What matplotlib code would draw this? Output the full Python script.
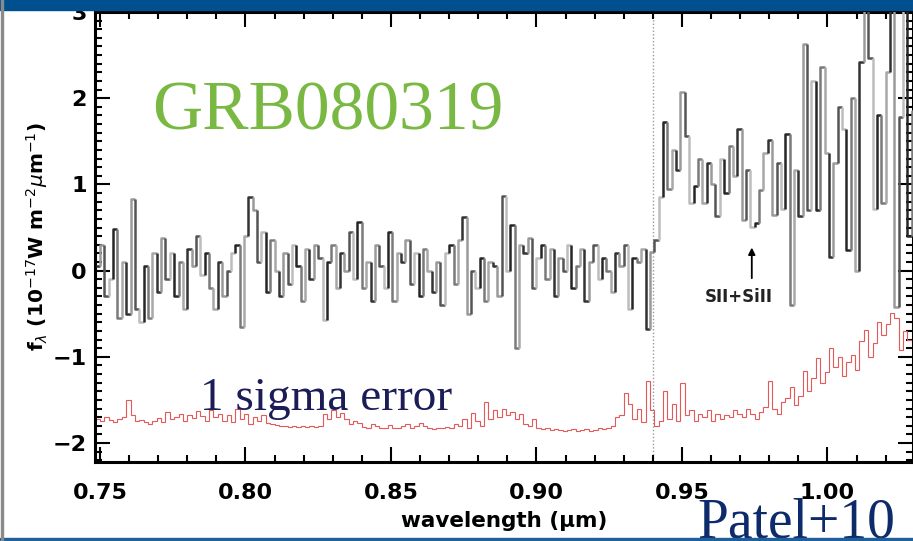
import numpy as np
import matplotlib.pyplot as plt
from matplotlib.collections import LineCollection
from matplotlib.patches import Rectangle
from matplotlib.ticker import MultipleLocator

# spectrum binning (micron)
wave_start = 0.7485
bin_width = 0.0015

# flux density, 1e-17 W m^-2 um^-1
flux = [
    0.05, 0.30, -0.30, -0.10, 0.48, -0.55, 0.10, -0.50, 0.83, -0.45,
    -0.60, 0.05, -0.55, 0.20, -0.25, 0.38, -0.10, 0.20, -0.30, 0.10,
    -0.45, 0.25, 0.05, 0.40, -0.05, 0.20, -0.20, -0.45, 0.10, -0.30,
    0.00, 0.20, 0.30, -0.65, 0.40, 0.85, 0.70, 0.10, 0.45, -0.25,
    0.35, 0.00, -0.30, 0.20, -0.15, 0.30, 0.05, -0.35, 0.25, -0.10,
    0.30, 0.15, -0.57, 0.10, 0.30, -0.20, 0.20, 0.00, 0.45, -0.10,
    0.56, -0.20, 0.10, -0.35, 0.30, 0.05, -0.20, 0.45, -0.35, 0.20,
    0.10, 0.35, -0.15, 0.20, -0.30, 0.25, 0.00, -0.25, 0.10, -0.40,
    0.20, 0.30, -0.15, 0.35, 0.62, -0.50, 0.00, -0.20, 0.15, -0.35,
    0.10, 0.05, -0.30, 0.87, 0.00, 0.53, -0.90, 0.30, 0.20, 0.38,
    -0.20, 0.15, 0.30, -0.10, 0.25, -0.30, 0.15, 0.00, 0.30, -0.20,
    0.05, 0.25, -0.35, 0.10, 0.30, -0.10, 0.15, 0.00, -0.25, 0.20,
    0.05, 0.30, -0.45, 0.15, 0.10, 0.25, -0.68, 0.22,
    0.35, 0.85, 1.72, 0.95, 1.40, 1.17, 2.07, 1.56, 0.79, 0.98,
    1.30, 0.79, 1.25, 1.00, 0.63, 1.30, 0.90, 1.44, 1.10, 1.64,
    0.59, 1.17, 0.51, 0.55, 0.94, 1.37, 1.52, 0.64, 1.25, 0.72,
    1.58, -0.40, 1.17, 0.63, 2.63, 0.70, 2.20, 0.70, 2.36, 1.37,
    0.16, 1.25, 1.90, 1.64, 0.24, 2.00, 0.00, 2.42, 3.40, 2.47,
    0.72, 1.80, 0.79, 2.30, 3.50, -0.42, 1.78, 3.50, 0.40, 1.85,
]

# 1 sigma error spectrum, drawn with an offset as in the figure
sigma = [
    -1.72, -1.74, -1.70, -1.73, -1.76, -1.72, -1.70, -1.50, -1.68, -1.74,
    -1.73, -1.76, -1.78, -1.74, -1.71, -1.76, -1.64, -1.72, -1.70, -1.66,
    -1.74, -1.68, -1.71, -1.63, -1.69, -1.75, -1.62, -1.70, -1.66, -1.74,
    -1.68, -1.76, -1.60, -1.72, -1.66, -1.78, -1.70, -1.74, -1.68, -1.77,
    -1.78, -1.79, -1.80, -1.80, -1.81, -1.80, -1.81, -1.80, -1.81, -1.80,
    -1.81, -1.80, -1.66, -1.72, -1.62, -1.70, -1.65, -1.72, -1.78, -1.74,
    -1.77, -1.81, -1.82, -1.78, -1.80, -1.83, -1.82, -1.79, -1.83, -1.82,
    -1.80, -1.78, -1.82, -1.80, -1.77, -1.80, -1.82, -1.84, -1.83, -1.82,
    -1.81, -1.83, -1.78, -1.80, -1.72, -1.82, -1.65, -1.74, -1.80, -1.52,
    -1.72, -1.62, -1.70, -1.60, -1.68, -1.64, -1.72, -1.66, -1.78, -1.80,
    -1.72, -1.82, -1.84, -1.83, -1.85, -1.84, -1.85, -1.86, -1.85, -1.84,
    -1.86, -1.85, -1.84, -1.86, -1.85, -1.83, -1.84, -1.82, -1.80, -1.70,
    -1.68, -1.42, -1.55, -1.72, -1.60, -1.76, -1.28, -1.62,
    -1.80, -1.75, -1.40, -1.72, -1.55, -1.74, -1.30, -1.68, -1.62, -1.75,
    -1.66, -1.70, -1.62, -1.74, -1.66, -1.72, -1.68, -1.70, -1.62, -1.66,
    -1.70, -1.60, -1.66, -1.72, -1.64, -1.58, -1.28, -1.60, -1.66, -1.52,
    -1.48, -1.35, -1.56, -1.46, -1.17, -1.40, -1.25, -1.01, -1.30, -1.18,
    -0.90, -1.12, -1.00, -1.22, -1.06, -0.98, -1.15, -0.82, -0.69, -1.00,
    -0.84, -0.60, -0.75, -0.62, -0.49, -0.55, -0.92, -0.70, -0.80, -0.85,
]

break_wave = 0.94
line_wave = 0.974
line_label = 'SII+SiII'

edges = wave_start + bin_width * np.arange(len(flux) + 1)

fig = plt.figure(figsize=(9.13, 5.41), dpi=100)
ax = fig.add_axes([95 / 913, 1 - 462 / 541, 818 / 913, 450 / 541])

# step spectrum, each bin in a slightly different grey like the scanned plot
greys = ['#333333', '#9a9a9a', '#555555', '#bdbdbd', '#262626', '#7a7a7a', '#a8a8a8']
segs, cols = [], []
for i, f in enumerate(flux):
    prev = flux[i - 1] if i > 0 else f
    segs.append([(edges[i], prev), (edges[i], f), (edges[i + 1], f)])
    cols.append(greys[i % len(greys)])
ax.add_collection(LineCollection(segs, colors=cols, linewidths=1.8, zorder=3))

ax.stairs(sigma, edges, baseline=None, color='#e35a5a', lw=0.8, zorder=2)
ax.axvline(break_wave, color='#9a9a9a', lw=1.0, ls=(0, (1, 1.5)), zorder=1)

ax.annotate('', xy=(line_wave, 0.30), xytext=(line_wave, -0.12),
            arrowprops=dict(arrowstyle='-|>', color='black', lw=1.3,
                            mutation_scale=10))
ax.text(line_wave - 0.0045, -0.31, line_label, ha='center', va='center',
        fontsize=12, fontweight='bold', color='#222222')

ax.set_xlim(0.7483, 1.0294)
ax.set_ylim(-2.22, 3.0)
ax.xaxis.set_major_locator(MultipleLocator(0.05))
ax.xaxis.set_minor_locator(MultipleLocator(0.01))
ax.yaxis.set_major_locator(MultipleLocator(1))
ax.yaxis.set_minor_locator(MultipleLocator(0.1))
ax.set_xticks([0.75, 0.80, 0.85, 0.90, 0.95, 1.00])
ax.set_xticklabels(['0.75', '0.80', '0.85', '0.90', '0.95', '1.00'])
ax.set_yticks([-2, -1, 0, 1, 2, 3])
ax.set_yticklabels(['\u22122', '\u22121', '0', '1', '2', '3'])
ax.tick_params(which='both', direction='in', top=True, right=True,
               color='black', width=1.5)
ax.tick_params(which='major', length=11)
ax.tick_params(which='minor', length=5)
ax.tick_params(axis='x', pad=15, labelsize=16)
ax.tick_params(axis='y', pad=6, labelsize=16)
for lab in ax.get_xticklabels() + ax.get_yticklabels():
    lab.set_fontweight('bold')
for sp in ax.spines.values():
    sp.set_linewidth(2.2)

ax.set_xlabel('wavelength (\u00b5m)', fontsize=15.5, fontweight='bold', labelpad=6)
ax.set_ylabel(r'f$_\lambda$ (10$^{-17}$W m$^{-2}$$\mu$m$^{-1}$)',
              fontsize=14.5, fontweight='bold', labelpad=2)

# slide overlay text
fig.text(152 / 913, 1 - 130 / 541, 'GRB080319', family='Liberation Serif',
         fontsize=50, color='#79b943', va='baseline', ha='left')
fig.text(200 / 913, 1 - 410 / 541, '1 sigma error', family='Liberation Serif',
         fontsize=34, color='#1c1c58', va='baseline', ha='left', zorder=5)
fig.text(697 / 913, 1 - 537 / 541, 'Patel+10', family='Liberation Serif',
         fontsize=40, color='#0d2a6b', va='baseline', ha='left', zorder=5)

# slide frame
fig.patches.append(Rectangle((0, 1 - 10 / 541), 1, 10 / 541, transform=fig.transFigure,
                             color='#00508f', zorder=10))
fig.patches.append(Rectangle((0, 0), 1, 3 / 541, transform=fig.transFigure,
                             color='#1f5f9a', zorder=10))
fig.patches.append(Rectangle((1 / 913, 0), 2 / 913, 1, transform=fig.transFigure,
                             color='#8a8a8a', zorder=10))

fig.savefig('out.png', dpi=100)
